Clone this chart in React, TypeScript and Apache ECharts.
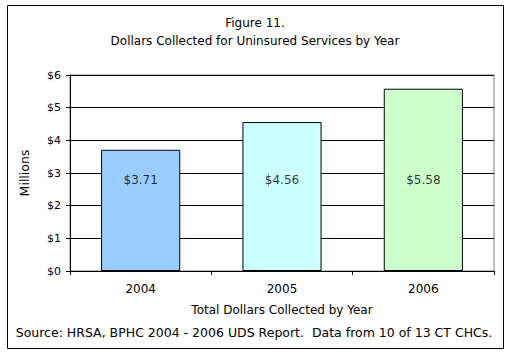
import React, { useEffect, useRef } from "react";
import * as echarts from "echarts";

const years = ["2004", "2005", "2006"];
const values = [3.71, 4.56, 5.58];
const barColors = ["#99CCFF", "#CCFFFF", "#CCFFCC"];
const labelLevel = 2.78;
const titleLines = ["Figure 11.", "Dollars Collected for Uninsured Services by Year"];
const xAxisTitle = "Total Dollars Collected by Year";
const yAxisTitle = "Millions";
const sourceText = "Source: HRSA, BPHC 2004 - 2006 UDS Report.  Data from 10 of 13 CT CHCs.";

const FONT = "DejaVu Sans";

export default function App() {
  const ref = useRef<HTMLDivElement>(null);
  useEffect(() => {
    if (!ref.current) return;
    const chart = echarts.init(ref.current, null, { renderer: "svg" });
    const tStyle = { fontFamily: FONT, fontSize: 12, fontWeight: "normal", color: "#000" };
    chart.setOption({
      animation: false,
      backgroundColor: "#ffffff",
      textStyle: { fontFamily: FONT, color: "#000" },
      title: [
        { text: titleLines[0], left: "center", top: 17, padding: 0, textStyle: tStyle },
        { text: titleLines[1], left: "center", top: 35, padding: 0, textStyle: tStyle },
        {
          text: sourceText,
          left: 254,
          textAlign: "center",
          top: 326,
          padding: 0,
          textStyle: { ...tStyle, fontSize: 12.5 },
        },
      ],
      graphic: [
        {
          type: "rect",
          shape: { x: 7.5, y: 5.5, width: 496, height: 343 },
          style: { fill: "none", stroke: "#000", lineWidth: 1 },
          silent: true,
        },
      ],
      grid: { left: 70, right: 16, top: 75, bottom: 84, containLabel: false, show: true, borderColor: "#808080", borderWidth: 1 },
      xAxis: {
        type: "category",
        data: years,
        name: xAxisTitle,
        nameLocation: "middle",
        nameGap: 33,
        nameTextStyle: { fontFamily: FONT, fontSize: 12, color: "#000" },
        axisLine: { show: true, lineStyle: { color: "#000", width: 1 } },
        axisTick: { show: true, alignWithLabel: false, length: 4, lineStyle: { color: "#000" } },
        axisLabel: { fontFamily: FONT, fontSize: 12, color: "#000", margin: 12 },
        splitLine: { show: false },
      },
      yAxis: {
        type: "value",
        min: 0,
        max: 6,
        interval: 1,
        name: yAxisTitle,
        nameLocation: "middle",
        nameRotate: 90,
        nameGap: 39,
        nameTextStyle: { fontFamily: FONT, fontSize: 12.5, color: "#000" },
        axisLine: { show: true, lineStyle: { color: "#000", width: 1 } },
        axisTick: { show: true, length: 4, lineStyle: { color: "#000" } },
        axisLabel: { fontFamily: FONT, fontSize: 11, color: "#000", margin: 9, formatter: (v: number) => "$" + v },
        splitLine: { show: true, lineStyle: { color: "#000", width: 1 } },
      },
      series: [
        {
          type: "bar",
          barWidth: "56%",
          data: values.map((v, i) => ({
            value: v,
            itemStyle: { color: barColors[i], borderColor: "#000", borderWidth: 1 },
          })),
        },
        {
          type: "scatter",
          symbolSize: 0,
          silent: true,
          data: years.map((y, i) => ({
            value: [y, labelLevel],
            label: {
              show: true,
              position: "inside",
              formatter: "$" + values[i].toFixed(2),
              fontFamily: FONT,
              fontSize: 12,
              color: "#000",
            },
          })),
        },
      ],
    });
    return () => chart.dispose();
  }, []);
  return <div ref={ref} style={{ position: "fixed", left: 0, top: 0, width: 510, height: 355 }} />;
}
